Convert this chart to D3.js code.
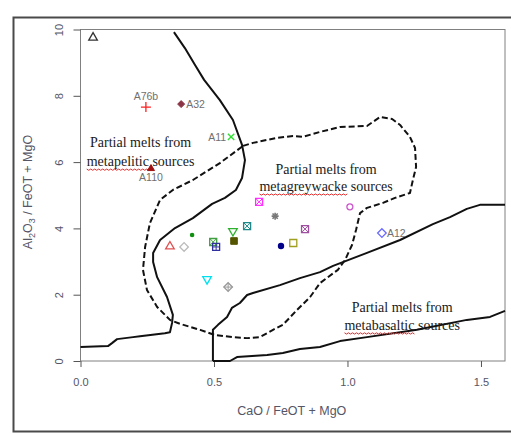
<!DOCTYPE html>
<html><head><meta charset="utf-8">
<script src="https://cdn.jsdelivr.net/npm/d3@7"></script>
<style>body{margin:0;background:#fff}svg{display:block}</style>
</head><body>
<svg id="c" width="511" height="434"></svg>
<script>
// ---------- data ----------
const xTicks = [0, 0.5, 1.0, 1.5];
const yTicks = [0, 2, 4, 6, 8, 10];

const sampleIds = ["s1","A76b","A32","A11","A110","s6","s7","s8","s9","s10","s11","s12","s13","s14","s15","s16","s17","s18","s19","A12","s21","s22"];
const caoRatio = [0.047,0.245,0.377,0.564,0.264,0.335,0.388,0.418,0.497,0.508,0.571,0.575,0.624,0.669,0.729,0.841,0.751,0.797,1.009,1.129,0.474,0.553];
const alRatio  = [9.77,7.66,7.75,6.76,5.82,3.47,3.44,3.80,3.59,3.44,3.89,3.62,4.07,4.80,4.37,3.98,3.47,3.56,4.65,3.86,2.44,2.23];
const labelled = ["A76b","A32","A11","A110","A12"];

// metapelitic / metagreywacke boundary (solid)
const pelitic = [[0.350,9.92],[0.391,9.44],[0.429,8.93],[0.463,8.48],[0.522,7.87],[0.571,7.27],[0.605,6.52],[0.616,6.06],[0.605,5.52],[0.582,5.16],[0.541,4.92],[0.493,4.74],[0.421,4.31],[0.354,4.01],[0.298,3.65],[0.272,3.26],[0.272,2.99],[0.287,2.53],[0.324,1.93],[0.346,1.39],[0.343,1.15],[0.335,0.87],[0.316,0.84],[0.223,0.75],[0.197,0.72],[0.137,0.66],[0.118,0.54],[0.103,0.45],[0,0.42]];
// greywacke / basaltic boundary (solid)
const upperBasalt = [[0.496,0],[0.496,0.94],[0.515,1.09],[0.549,1.33],[0.567,1.60],[0.597,1.75],[0.624,1.99],[0.646,2.05],[0.747,2.29],[0.822,2.50],[0.897,2.68],[0.946,2.87],[1.073,3.26],[1.197,3.65],[1.320,4.13],[1.384,4.34],[1.447,4.59],[1.496,4.71],[1.590,4.71]];
// lower basaltic boundary (solid)
const lowerBasalt = [[0.496,0],[0.560,0],[0.586,0.12],[0.699,0.18],[0.758,0.24],[0.822,0.36],[0.897,0.42],[0.972,0.60],[1.073,0.72],[1.260,0.94],[1.447,1.24],[1.534,1.33],[1.590,1.51]];
// metagreywacke field (dashed, closed)
const greywacke = [[0.609,6.49],[0.646,6.58],[0.736,6.73],[0.796,6.79],[0.833,6.76],[0.897,6.91],[0.972,7.06],[1.073,7.09],[1.122,7.36],[1.167,7.30],[1.197,7.12],[1.234,6.76],[1.253,6.43],[1.257,5.85],[1.245,5.46],[1.234,5.07],[1.178,4.92],[1.133,4.77],[1.073,4.62],[1.047,4.46],[1.032,3.95],[1.017,3.50],[0.991,3.05],[0.964,2.75],[0.897,2.35],[0.860,1.93],[0.811,1.54],[0.758,1.09],[0.721,0.94],[0.672,0.72],[0.624,0.69],[0.571,0.72],[0.504,0.78],[0.448,0.94],[0.373,1.12],[0.335,1.24],[0.287,1.63],[0.249,2.14],[0.234,2.75],[0.242,3.44],[0.260,4.16],[0.298,4.86],[0.346,5.16],[0.421,5.46],[0.522,5.97]];

const fieldNames = ["metapelitic","metagreywacke","metabasaltic"];
const fieldX = [0.225, 0.92, 1.205];
const fieldY1 = [6.46, 5.64, 1.48];
const fieldY2 = [5.88, 5.13, 0.94];

// ---------- styles (per sample) ----------
const markerStyle = [
 ["triUp","#333"],["plus","#ff2020"],["fDiamond","#8b3444"],["cross","#33dd33"],["fTri","#a01010"],
 ["triUp","#e05050"],["diamond","#bbbbbb"],["fCircle","#109010"],["squareX","#40a040"],["squarePlus","#3030a0"],
 ["triDown","#30b030"],["fSquare","#555500"],["squareX","#208888"],["squareX","#ff30ff"],["star","#777"],
 ["squareX","#a050a0"],["fCircleL","#00008b"],["square","#a0a020"],["circle","#cc55cc"],["diamond","#6a6aff"],
 ["triDown","#00e0ee"],["diamondPlus","#999"]
];

// ---------- layout ----------
const svg = d3.select("#c");
const L = 80.5, R = 505, T = 29.5, B = 361;
const x = d3.scaleLinear().domain([0, 1.59]).range([L, R]);
const y = d3.scaleLinear().domain([0, 10]).range([B, T]);
const sans = "Liberation Sans, Arial, sans-serif";
const serif = "Liberation Serif, Times New Roman, serif";

// outer frame
svg.append("path").attr("d","M512,17.5H13.5V431.5H512").attr("fill","none").attr("stroke","#4a4a4a").attr("stroke-width",2);

// plot box
svg.append("rect").attr("x",L).attr("y",T).attr("width",R-L).attr("height",B-T)
  .attr("fill","none").attr("stroke","#808080").attr("stroke-width",1);

// axes
const gx = svg.append("g").attr("transform",`translate(0,${B})`)
  .call(d3.axisBottom(x).tickValues(xTicks).tickSize(6).tickFormat(d3.format(".1f")));
gx.select(".domain").remove();
gx.selectAll(".tick line").attr("stroke","#555");
gx.selectAll(".tick text").attr("y",17).attr("dy","0.71em").attr("fill","#556")
  .style("font-family",sans).style("font-size","11px");

const gy = svg.append("g").attr("transform",`translate(${L},0)`)
  .call(d3.axisLeft(y).tickValues(yTicks).tickSize(7).tickFormat(d3.format("d")));
gy.select(".domain").remove();
gy.selectAll(".tick line").attr("stroke","#555");
gy.selectAll(".tick text").attr("x",0).attr("dy",null)
  .attr("transform","translate(-22,0) rotate(-90)")
  .attr("text-anchor","middle").attr("dominant-baseline","central")
  .attr("fill","#556").style("font-family",sans).style("font-size","11px");

// axis titles
svg.append("text").attr("x",(L+R)/2 - 1).attr("y",415).attr("text-anchor","middle")
  .attr("fill","#556").style("font-family",sans).style("font-size","12.5px")
  .text("CaO / FeOT + MgO");
const yt = svg.append("text").attr("transform","translate(32,192) rotate(-90)").attr("text-anchor","middle")
  .attr("fill","#556").style("font-family",sans).style("font-size","12.5px");
yt.append("tspan").text("Al");
yt.append("tspan").attr("dy",3).style("font-size","9px").text("2");
yt.append("tspan").attr("dy",-3).text("O");
yt.append("tspan").attr("dy",3).style("font-size","9px").text("3");
yt.append("tspan").attr("dy",-3).text(" / FeOT + MgO");

// curves
const line = d3.line().x(d=>x(d[0])).y(d=>y(d[1]));
const curveG = svg.append("g").attr("fill","none").attr("stroke","#111").attr("stroke-width",2).attr("stroke-linejoin","round");
curveG.append("path").attr("d", line(pelitic));
curveG.append("path").attr("d", line(upperBasalt));
curveG.append("path").attr("d", line(lowerBasalt));
curveG.append("path").attr("d", line(greywacke)+"Z").attr("stroke-dasharray","6,3");

// field labels
fieldNames.forEach((n,i)=>{
  svg.append("text").attr("x",x(fieldX[i])).attr("y",y(fieldY1[i])).attr("text-anchor","middle")
    .attr("fill","#1a1a1a").style("font-family",serif).style("font-size","14px").text("Partial melts from");
  const t2 = svg.append("text").attr("x",x(fieldX[i])).attr("y",y(fieldY2[i])).attr("text-anchor","middle")
    .attr("fill","#1a1a1a").style("font-family",serif).style("font-size","14px");
  t2.append("tspan").text(n);
  t2.append("tspan").text(" sources");
  const node = t2.node();
  const total = node.getComputedTextLength();
  const wlen = node.getSubStringLength(0, n.length);
  const x0 = x(fieldX[i]) - total/2, yy = y(fieldY2[i]) + 3;
  let d = `M${x0},${yy}`;
  for (let k = 0, px = x0; px < x0 + wlen; k++) { px += 2; d += `L${Math.min(px,x0+wlen)},${yy + (k%2?0:1.2)}`; }
  svg.append("path").attr("d",d).attr("fill","none").attr("stroke","#e03030").attr("stroke-width",1);
});

// markers
function drawMarker(g, shape, c){
  const p = (d,fill,sw)=>g.append("path").attr("d",d).attr("fill",fill||"none").attr("stroke",c).attr("stroke-width",sw||1.3);
  const tri = "M0,-4.5L4.3,3L-4.3,3Z", triD = "M0,4L4.3,-3.5L-4.3,-3.5Z";
  const dia = "M0,-4.3L4.3,0L0,4.3L-4.3,0Z", sq = "M-3.5,-3.5H3.5V3.5H-3.5Z";
  const plus = "M-4,0H4M0,-4V4", cross = "M-3.2,-3.2L3.2,3.2M-3.2,3.2L3.2,-3.2";
  switch(shape){
    case "triUp": p(tri); break;
    case "triDown": p(triD); break;
    case "diamond": p(dia); break;
    case "square": p(sq); break;
    case "circle": g.append("circle").attr("r",3).attr("fill","none").attr("stroke",c).attr("stroke-width",1.3); break;
    case "plus": p("M-5,0H5M0,-5V5",null,1.3); break;
    case "cross": p(cross,null,1.4); break;
    case "squareX": p(sq); p(cross.replace(/3\.2/g,"3.5"),null,1); break;
    case "squarePlus": p(sq); p("M-3.5,0H3.5M0,-3.5V3.5",null,1); break;
    case "diamondPlus": p(dia); p("M-4.3,0H4.3M0,-4.3V4.3",null,1); break;
    case "fDiamond": p("M0,-3.5L3.5,0L0,3.5L-3.5,0Z",c,1); break;
    case "fTri": p("M0,-3.5L3.5,2.5L-3.5,2.5Z",c,1); break;
    case "fSquare": p("M-3.3,-3.3H3.3V3.3H-3.3Z",c,1); break;
    case "fCircle": g.append("circle").attr("r",2.3).attr("fill",c); break;
    case "fCircleL": g.append("circle").attr("r",3.2).attr("fill",c); break;
    case "star": p(plus.replace(/4/g,"3.5"),null,1.6); p(cross.replace(/3\.2/g,"2.6"),null,1.6); break;
  }
}
const mg = svg.append("g");
sampleIds.forEach((id,i)=>{
  const g = mg.append("g").attr("transform",`translate(${x(caoRatio[i])},${y(alRatio[i])})`);
  drawMarker(g, markerStyle[i][0], markerStyle[i][1]);
});

// sample labels
const lab = {A76b:[0,-7,"middle"],A32:[5,4,"start"],A11:[-5,4,"end"],A110:[0,13,"middle"],A12:[5,4,"start"]};
labelled.forEach(id=>{
  const i = sampleIds.indexOf(id), o = lab[id];
  svg.append("text").attr("x",x(caoRatio[i])+o[0]).attr("y",y(alRatio[i])+o[1]).attr("text-anchor",o[2])
    .attr("fill","#707070").style("font-family",sans).style("font-size","10.5px").text(id);
});
</script>
</body></html>
